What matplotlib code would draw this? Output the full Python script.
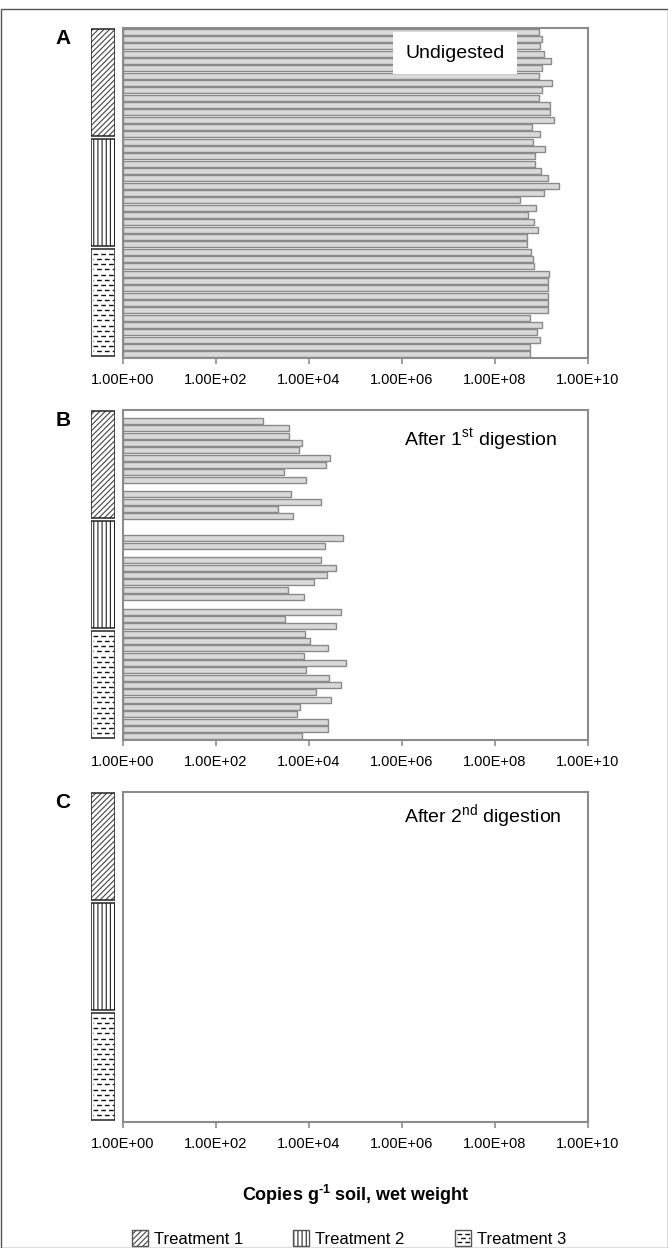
import numpy as np
import matplotlib
matplotlib.use('Agg')
import matplotlib.pyplot as plt
from matplotlib.patches import Rectangle
from matplotlib.ticker import FixedLocator, FuncFormatter, NullLocator

plt.rcParams['font.family'] = ['Liberation Sans', 'DejaVu Sans']
plt.rcParams['mathtext.fontset'] = 'custom'
plt.rcParams['mathtext.rm'] = 'Liberation Sans'
plt.rcParams['mathtext.bf'] = 'Liberation Sans:bold'
plt.rcParams['hatch.linewidth'] = 0.8

# log10(copies g-1 soil), 45 samples per panel: 15 per treatment (top to bottom)
# None = nothing detected
undigested = [8.95, 9.02, 8.97, 9.06, 9.20, 9.02, 8.95, 9.22, 9.02, 8.95, 9.19, 9.19, 9.27, 8.79, 8.97,
              8.81, 9.07, 8.86, 8.86, 8.99, 9.15, 9.38, 9.05, 8.54, 8.89, 8.71, 8.84, 8.93, 8.68, 8.68,
              8.77, 8.81, 8.83, 9.17, 9.15, 9.13, 9.14, 9.13, 9.13, 8.76, 9.00, 8.90, 8.97, 8.76, 8.76]
after_1st = [None, 3.00, 3.56, 3.58, 3.85, 3.78, 4.45, 4.37, 3.47, 3.94, None, 3.61, 4.26, 3.33, 3.66,
             None, None, 4.73, 4.35, None, 4.25, 4.57, 4.39, 4.10, 3.55, 3.90, None, 4.68, 3.49, 4.58,
             3.92, 4.03, 4.40, 3.89, 4.79, 3.94, 4.42, 4.68, 4.15, 4.48, 3.81, 3.74, 4.40, 4.41, 3.86]
after_2nd = [None] * 45  # nothing left after the 2nd digestion

panel_letters = ['A', 'B', 'C']
panel_titles = ['Undigested', 'After 1$^{\\mathrm{st}}$ digestion', 'After 2$^{\\mathrm{nd}}$ digestion']
treatments = ['Treatment 1', 'Treatment 2', 'Treatment 3']
tick_exp = [0, 2, 4, 6, 8, 10]

W, H = 668, 1248
fig = plt.figure(figsize=(W / 100, H / 100), dpi=100)


def px_axes(x0, y0, x1, y1):
    return fig.add_axes([x0 / W, 1 - y1 / H, (x1 - x0) / W, (y1 - y0) / H])


def dash_rows(ax, x0, x1, y0, y1, nrows):
    # short staggered dashes used for treatment 3
    for i, yy in enumerate(np.linspace(y0, y1, nrows + 2)[1:-1]):
        off = 0 if i % 2 == 0 else 3.0
        ax.plot([x0, x1], [yy, yy], color='#111111', lw=1.0,
                linestyle=(off, (3.4, 2.2)), solid_capstyle='butt')


def treatment_block(ax, x, y, w, h, k, nrows):
    if k == 0:
        ax.add_patch(Rectangle((x, y), w, h, facecolor='white', edgecolor='#444444', hatch='//////', lw=0))
    elif k == 1:
        ax.add_patch(Rectangle((x, y), w, h, facecolor='white', edgecolor='#222222', hatch='||||', lw=0))
    else:
        ax.add_patch(Rectangle((x, y), w, h, facecolor='white', lw=0))
        dash_rows(ax, x + 0.1 * w, x + 0.95 * w, y, y + h, nrows)
    ax.add_patch(Rectangle((x, y), w, h, fill=False, edgecolor='#222222', lw=1.1))


panels = [undigested, after_1st, after_2nd]
tops = [28, 410, 792]
title_pos = [(0.714, 0.924), (0.768, 0.91), (0.774, 0.925)]
n = len(undigested)

for p, (vals, top) in enumerate(zip(panels, tops)):
    ax = px_axes(123, top, 588, top + 330)
    v = np.array([np.nan if a is None else a for a in vals], dtype=float)
    ok = ~np.isnan(v)
    y = np.arange(n) + 0.5
    ax.barh(y[ok], 10 ** v[ok] - 1, left=1, height=0.82,
            color='#d9d9d9', edgecolor='#8a8a8a', linewidth=1.0)
    ax.set_xscale('log')
    ax.set_xlim(1, 1e10)
    ax.set_ylim(n, 0)
    ax.xaxis.set_major_locator(FixedLocator([10.0 ** e for e in tick_exp]))
    ax.xaxis.set_minor_locator(NullLocator())
    ax.xaxis.set_major_formatter(FuncFormatter(lambda x, _: f'{x:.2E}'))
    ax.tick_params(axis='x', direction='out', length=4, width=1.2, color='#8c8c8c',
                   labelsize=10.5, pad=7)
    ax.set_yticks([])
    for s in ax.spines.values():
        s.set_color('#8c8c8c')
        s.set_linewidth(1.5)
    tx, ty = title_pos[p]
    if p == 0:
        ax.text(tx, ty, panel_titles[p], transform=ax.transAxes, ha='center', va='center', fontsize=14,
                zorder=5, bbox=dict(boxstyle='square,pad=0.65', facecolor='white', edgecolor='none'))
    else:
        ax.text(tx, ty, panel_titles[p], transform=ax.transAxes, ha='center', va='center', fontsize=14)

    # treatment strip on the left
    sx = px_axes(90.5, top, 115.5, top + 330)
    sx.set_xlim(0, 1)
    sx.set_ylim(n, 0)
    sx.axis('off')
    for k in range(3):
        treatment_block(sx, 0, k * 15 + 0.15, 1, 14.6, k, 20)

# overlay in pixel coordinates for labels, legend and frame
ov = fig.add_axes([0, 0, 1, 1])
ov.set_xlim(0, W)
ov.set_ylim(H, 0)
ov.axis('off')

for letter, top in zip(panel_letters, tops):
    ov.text(63, top + 10, letter, ha='center', va='center', fontsize=15, fontweight='bold')

ov.text(355.5, 1195, 'Copies g$^{\\mathbf{\u2010}\\mathbf{1}}$ soil, wet weight', ha='center', va='center',
        fontsize=13, fontweight='bold')

leg_x = [132, 293, 455]
for k, (lx, name) in enumerate(zip(leg_x, treatments)):
    if k == 0:
        ov.add_patch(Rectangle((lx, 1230), 16, 16, facecolor='white', edgecolor='#444444',
                               hatch='//////', lw=0))
    elif k == 1:
        ov.add_patch(Rectangle((lx, 1230), 16, 16, facecolor='white', edgecolor='#222222',
                               hatch='||||', lw=0))
    else:
        dash_rows(ov, lx + 1.5, lx + 15, 1230, 1246, 3)
    ov.add_patch(Rectangle((lx, 1230), 16, 16, fill=False, edgecolor='#555555', lw=1))
    ov.text(lx + 22, 1239, name, ha='left', va='center', fontsize=12)

ov.add_patch(Rectangle((0.5, 9), W - 1, H - 9.5, fill=False, edgecolor='#555555', lw=1))

fig.savefig('out.png', dpi=100)
